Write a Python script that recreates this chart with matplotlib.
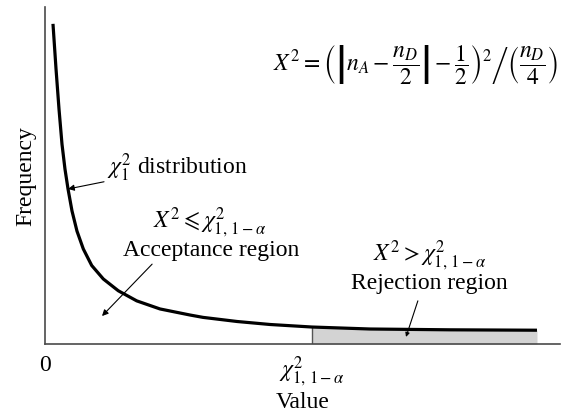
import matplotlib
matplotlib.use("Agg")
import matplotlib.pyplot as plt
import numpy as np

plt.rcParams["font.family"] = ["Liberation Serif", "DejaVu Serif"]
plt.rcParams["mathtext.fontset"] = "stix"

# Chi-square (1 df) frequency curve, read along its length
value_x = [0.155, 0.214, 0.272, 0.330, 0.388, 0.447, 0.524, 0.621, 0.744,
           0.907, 1.132, 1.423, 1.781, 2.233, 2.816, 3.068, 3.728, 4.369,
           5.180, 6.311, 7.864, 9.553]
freq_y = [9.50, 8.16, 6.97, 5.93, 5.19, 4.60, 3.95, 3.35, 2.82,
          2.33, 1.93, 1.58, 1.28, 1.04, 0.86, 0.79, 0.668, 0.579,
          0.504, 0.445, 0.421, 0.409]

critical_value = 5.18
tick_positions = [0, critical_value]
tick_labels = ["0", r"$\chi^2_{1,\,1-\alpha}$"]

fs = 17

fig = plt.figure(figsize=(5.65, 4.14), dpi=100)
ax = fig.add_axes([45 / 565, (414 - 345) / 414, (560 - 45) / 565, (345 - 8) / 414])
ax.set_xlim(0, 10)
ax.set_ylim(0, 10)

x = np.array(value_x)
y = np.array(freq_y)

# rejection region shading
mask = x >= critical_value
ax.fill_between(x[mask], 0, y[mask], color="#d3d3d3", lw=0, zorder=1)
ax.plot([critical_value, critical_value], [0, y[mask][0]], color="#555555", lw=1.0, zorder=2)

ax.plot(x, y, color="black", lw=2.3, solid_capstyle="butt",
        solid_joinstyle="round", zorder=3)

for side in ("top", "right"):
    ax.spines[side].set_visible(False)
for side in ("left", "bottom"):
    ax.spines[side].set_color("#4a4a4a")
    ax.spines[side].set_linewidth(1.2)

ax.set_yticks([])
ax.set_xticks(tick_positions)
ax.set_xticklabels(tick_labels, fontsize=fs)
ax.tick_params(axis="x", length=0, pad=7)
ax.set_xlabel("Value", fontsize=fs, labelpad=2)
ax.set_ylabel("Frequency", fontsize=fs, labelpad=6)

arrow = dict(arrowstyle="-|>", color="black", lw=0.8, mutation_scale=9,
             shrinkA=0, shrinkB=0)

ax.annotate(r"$\chi^2_1$ distribution", xy=(0.447, 4.60), xytext=(1.20, 5.25),
            fontsize=fs, ha="left", va="center", arrowprops=arrow)

ax.text(3.20, 3.62, r"$X^2 \leqslant \chi^2_{1,\,1-\alpha}$", fontsize=fs,
        ha="center", va="center")
ax.text(3.22, 2.80, "Acceptance region", fontsize=fs, ha="center", va="center")
ax.annotate("", xy=(1.107, 0.83), xytext=(2.08, 2.37), arrowprops=arrow)

ax.text(7.46, 2.64, r"$X^2 > \chi^2_{1,\,1-\alpha}$", fontsize=fs,
        ha="center", va="center")
ax.text(7.46, 1.82, "Rejection region", fontsize=fs, ha="center", va="center")
ax.annotate("", xy=(7.01, 0.21), xytext=(7.24, 1.28),
            arrowprops=dict(arrow, mutation_scale=6))

fig.text(273 / 565, 1 - 65 / 414,
         r"$X^2 = \left(\left|n_A - \dfrac{n_D}{2}\right| - \dfrac{1}{2}\right)^2"
         r"\left/\left(\dfrac{n_D}{4}\right)\right.$",
         fontsize=fs, ha="left", va="center")

fig.savefig("out.png", dpi=100, facecolor="white")
